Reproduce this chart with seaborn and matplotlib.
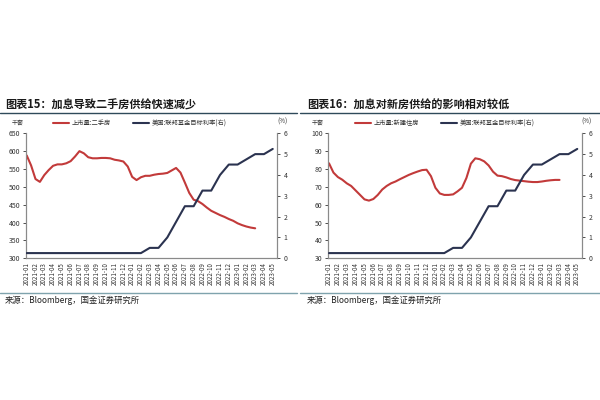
import matplotlib
matplotlib.use("Agg")
import matplotlib.pyplot as plt
from matplotlib.lines import Line2D
import seaborn as sns
import pandas as pd

# ---------------- data ----------------
months = ["2021-01", "2021-02", "2021-03", "2021-04", "2021-05", "2021-06",
          "2021-07", "2021-08", "2021-09", "2021-10", "2021-11", "2021-12",
          "2022-01", "2022-02", "2022-03", "2022-04", "2022-05", "2022-06",
          "2022-07", "2022-08", "2022-09", "2022-10", "2022-11", "2022-12",
          "2023-01", "2023-02", "2023-03", "2023-04", "2023-05"]

# US fed funds target rate (upper), monthly, %
fed_rate = [0.25, 0.25, 0.25, 0.25, 0.25, 0.25, 0.25, 0.25, 0.25, 0.25,
            0.25, 0.25, 0.25, 0.25, 0.5, 0.5, 1.0, 1.75, 2.5, 2.5,
            3.25, 3.25, 4.0, 4.5, 4.5, 4.75, 5.0, 5.0, 5.25]

# half-month sample positions (month index) for listing series
half_pos = [0.0, 0.5, 1.0, 1.5, 2.0, 2.5, 3.0, 3.5, 4.0, 4.5, 5.0, 5.5,
            6.0, 6.5, 7.0, 7.5, 8.0, 8.5, 9.0, 9.5, 10.0, 10.5, 11.0, 11.5,
            12.0, 12.5, 13.0, 13.5, 14.0, 14.5, 15.0, 15.5, 16.0, 16.5,
            17.0, 17.5, 18.0, 18.5, 19.0, 19.5, 20.0, 20.5, 21.0, 21.5,
            22.0, 22.5, 23.0, 23.5, 24.0, 24.5, 25.0, 25.5, 26.0]

# listings: existing homes (thousand units)
existing_listings = [588, 560, 522, 514, 533, 547, 559, 563, 563, 566, 572, 585,
                     600, 594, 583, 580, 580, 581, 581, 580, 576, 574, 571, 557,
                     528, 519, 527, 531, 531, 534, 536, 537, 539, 546,
                     553, 540, 512, 483, 464, 460, 452, 442, 433, 427,
                     421, 416, 410, 405, 398, 393, 389, 386, 384]

# listings: new homes (thousand units)
new_listings = [83.2, 78.0, 75.5, 74.0, 72.0, 70.5, 68.0, 65.5, 63.0, 62.3, 63.2, 65.5,
                68.5, 70.5, 72.0, 73.0, 74.3, 75.5, 76.7, 77.7, 78.6, 79.4, 79.6, 76.0,
                69.5, 66.3, 65.5, 65.5, 65.8, 67.5, 69.5, 75.0, 83.0, 86.0,
                85.5, 84.3, 82.0, 78.5, 76.3, 76.0, 75.3, 74.4, 73.8, 73.5,
                73.2, 72.9, 72.7, 72.7, 73.0, 73.4, 73.7, 73.9, 73.9]

titles = ["图表15：加息导致二手房供给快速减少", "图表16：加息对新房供给的影响相对较低"]
left_labels = ["上市量:二手房", "上市量:新建住房"]
rate_label = "美国:联邦基金目标利率(右)"
source = "来源：Bloomberg，国金证券研究所"
left_ticks = [[300, 350, 400, 450, 500, 550, 600, 650], [30, 40, 50, 60, 70, 80, 90, 100]]
right_ticks = [0, 1, 2, 3, 4, 5, 6]

# ---------------- style ----------------
sns.set_theme(style="white")
plt.rcParams["font.family"] = ["Noto Sans CJK SC", "DejaVu Sans"]
plt.rcParams["axes.unicode_minus"] = False

RED = "#c23a3a"
NAVY = "#2b3350"
TXT = "#333333"
SPINE = "#8a8a8a"

fig = plt.figure(figsize=(6, 4), dpi=100)
fig.patch.set_facecolor("white")

W, H = 600.0, 400.0
panels = [
    dict(x0=26.0, x1=276.7, xl=(-0.08, 28.45), tx=5, lx=140, ux=(0, 297), pct=282, unit=18,
         series=existing_listings),
    dict(x0=328.3, x1=581.7, xl=(-0.08, 28.5), tx=307, lx=445, ux=(300, 600), pct=587, unit=318,
         series=new_listings),
]
y_top, y_bot = 133.3, 258.3

rate_df = pd.DataFrame({"pos": list(range(len(months))), "rate": fed_rate})

for k, p in enumerate(panels):
    ax = fig.add_axes([p["x0"] / W, 1 - y_bot / H, (p["x1"] - p["x0"]) / W, (y_bot - y_top) / H])
    ax2 = ax.twinx()
    df = pd.DataFrame({"pos": half_pos, "val": p["series"]})
    sns.lineplot(data=df, x="pos", y="val", ax=ax, color=RED, lw=1.5, zorder=3)
    sns.lineplot(data=rate_df, x="pos", y="rate", ax=ax2, color=NAVY, lw=1.5, zorder=3)

    lt = left_ticks[k]
    ax.set_ylim(lt[0], lt[-1])
    ax.set_yticks(lt)
    ax2.set_ylim(0, 6)
    ax2.set_yticks(right_ticks)
    ax.set_xlim(*p["xl"])
    ax.set_xticks(range(len(months)))
    ax.set_xticklabels(months, rotation=90, fontsize=4.5, color=TXT)
    for a in (ax, ax2):
        a.set_xlabel("")
        a.set_ylabel("")
        a.grid(False)
        a.spines["top"].set_visible(False)
        for s in ("left", "right", "bottom"):
            a.spines[s].set_color(SPINE)
            a.spines[s].set_linewidth(0.8)
    ax.tick_params(axis="y", labelsize=5, colors=TXT, length=2, width=0.6, pad=2, direction="out")
    ax2.tick_params(axis="y", labelsize=5, colors=TXT, length=2, width=0.6, pad=3, direction="out")
    ax.tick_params(axis="x", length=0, pad=2.5, colors=TXT)
    ax.patch.set_alpha(0)

    # legend
    handles = [Line2D([], [], color=RED, lw=1.5), Line2D([], [], color=NAVY, lw=1.5)]
    leg = ax.legend(handles, [left_labels[k], rate_label], loc="center",
                    bbox_to_anchor=(p["lx"] / W, 1 - 123.3 / H), bbox_transform=fig.transFigure,
                    ncol=2, frameon=False, fontsize=4.5, handlelength=2.6, handletextpad=0.4,
                    columnspacing=3.5)
    for t in leg.get_texts():
        t.set_color(TXT)

    fig.text(p["unit"] / W, 1 - 123.0 / H, "千套", fontsize=4.3, color=TXT, ha="center", va="center")
    fig.text(p["pct"] / W, 1 - 121.5 / H, "(%)", fontsize=4.5, color=TXT, ha="center", va="center")

    # title + rules
    fig.text(p["tx"] / W, 1 - 105.0 / H, titles[k], fontsize=8, fontweight="bold",
             color="#1a1a1a", ha="left", va="center", fontstyle="italic")
    fig.add_artist(Line2D([p["ux"][0] / W, p["ux"][1] / W], [1 - 113.3 / H] * 2,
                          color="#2f4a5a", lw=1.0))
    fig.add_artist(Line2D([p["ux"][0] / W, p["ux"][1] / W], [1 - 293.0 / H] * 2,
                          color="#7fa3ad", lw=1.0))
    fig.text(p["tx"] / W, 1 - 300.5 / H, source, fontsize=6, color="#222222",
             ha="left", va="center")

fig.savefig("out.png", dpi=100, facecolor="white")
